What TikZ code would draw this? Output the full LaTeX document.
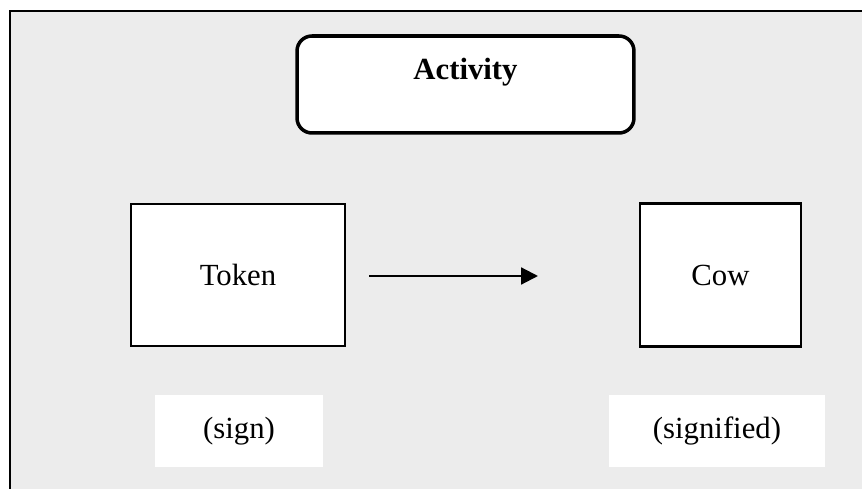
\documentclass[tikz,border=0pt]{standalone}
\usepackage{fontspec}
\setmainfont{Liberation Serif}
\usetikzlibrary{arrows.meta}
\definecolor{paper}{RGB}{236,236,236}
\begin{document}
\begin{tikzpicture}[x=0.02cm,y=-0.02cm,
  txt/.style={font=\fontsize{17.5}{21}\selectfont,inner sep=0pt},
  sqbox/.style={draw=black,fill=white,line width=1.2pt,inner sep=0pt,font=\fontsize{17.5}{21}\selectfont},
  rbox/.style={draw=black,fill=white,line width=2pt,rounded corners=8.5pt,inner sep=0pt},
  lbox/.style={fill=white,draw=none,inner sep=0pt,font=\fontsize{17.5}{21}\selectfont},
  link/.style={line width=1.2pt,-{Triangle[length=9.6pt,width=9.6pt]}}]
\useasboundingbox (0,0) rectangle (862,489);
\clip (0,0) rectangle (862,489);
\fill[white] (0,0) rectangle (862,489);
\draw[fill=paper,line width=1.2pt] (10,11) rectangle (900,520);
% activity
\node[rbox,minimum width=6.74cm,minimum height=1.94cm] (actbox) at (465.5,84.5) {};
\node[txt,font=\fontsize{17.5}{21}\selectfont\bfseries] (act) at (465.5,72) {Activity};
% boxes
\node[sqbox,minimum width=4.28cm,minimum height=2.84cm] (token) at (238,275) {Token};
\node[sqbox,minimum width=3.22cm,minimum height=2.86cm] (cow) at (720.5,275) {Cow};
% labels
\node[lbox,minimum width=3.36cm,minimum height=1.44cm] (sign) at (239,431) {(sign)};
\node[lbox,minimum width=4.32cm,minimum height=1.44cm] (signified) at (717,431) {(signified)};
% arrow
\coordinate (a1) at (369,276);
\coordinate (a2) at (538,276);
\draw[link] (a1) -- (a2);
\end{tikzpicture}
\end{document}
